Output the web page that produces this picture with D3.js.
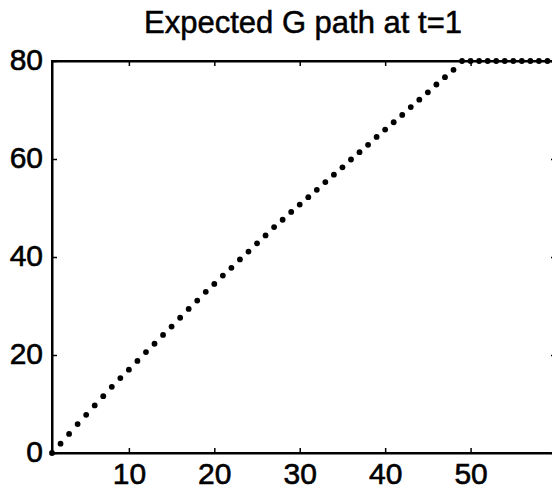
<!DOCTYPE html>
<html><head><meta charset="utf-8">
<script src="https://cdn.jsdelivr.net/npm/d3@7"></script>
<style>body{margin:0;background:#fff;}svg{display:block;font-family:"Liberation Sans",Arial,sans-serif;}</style>
</head><body>
<script>
const title = "Expected G path at t=1";
const xValues = d3.range(1, 61);
const gValues = [0,1.9,3.9,5.9,7.8,9.7,11.6,13.5,
 15.3,17.0,18.8,20.6,22.3,24.1,25.8,27.6,29.4,31.1,32.9,
 34.5,36.2,37.8,39.5,41.1,42.8,44.4,46.1,
 47.6,49.2,50.7,52.2,53.7,55.3,56.8,58.3,59.9,61.4,62.9,64.5,66.0,67.5,69.0,70.6,72.1,73.6,75.2,76.7,78.2,
 80,80,80,80,80,80,80,80,80,80,80,80];
const xTicks = [10,20,30,40,50];
const yTicks = [0,20,40,60,80];

const W = 552, H = 492;
const svg = d3.select("body").append("svg").attr("width", W).attr("height", H);
const x = d3.scaleLinear().domain([1, 60]).range([52, 556]);
const y = d3.scaleLinear().domain([0, 80]).range([453, 61]);

// box
svg.append("rect").attr("x", x(1)).attr("y", y(80)).attr("width", x(60)-x(1)).attr("height", y(0)-y(80))
  .attr("fill", "none").attr("stroke", "#000").attr("stroke-width", 2);

const gx = svg.append("g").attr("transform", `translate(0,${y(0)})`)
  .call(d3.axisBottom(x).tickValues(xTicks).tickSizeInner(-5).tickSizeOuter(0).tickPadding(10));
const gt = svg.append("g").attr("transform", `translate(0,${y(80)})`)
  .call(d3.axisTop(x).tickValues(xTicks).tickSizeInner(-5).tickSizeOuter(0).tickFormat(""));
const gy = svg.append("g").attr("transform", `translate(${x(1)},0)`)
  .call(d3.axisLeft(y).tickValues(yTicks).tickSizeInner(-5).tickSizeOuter(0).tickPadding(9));
const gr = svg.append("g").attr("transform", `translate(${x(60)},0)`)
  .call(d3.axisRight(y).tickValues(yTicks).tickSizeInner(-5).tickSizeOuter(0).tickFormat(""));

[gx, gt, gy, gr].forEach(g => {
  g.select(".domain").attr("stroke", "#000").attr("stroke-width", 2);
  g.selectAll(".tick line").attr("stroke", "#000").attr("stroke-width", 1.5);
  g.selectAll("text").attr("fill", "#000").attr("stroke", "#000").attr("stroke-width", 0.6)
    .style("font-size", "30px").style("font-family", '"Liberation Sans",Arial,sans-serif');
});
gy.selectAll("text").attr("dy", "0.28em");
gx.selectAll("text").attr("dy", "0.71em");

svg.append("g").selectAll("circle").data(xValues).join("circle")
  .attr("cx", (d) => x(d)).attr("cy", (d, i) => y(gValues[i])).attr("r", 2.9).attr("fill", "#000");

svg.append("text").attr("x", (x(1) + x(60)) / 2 - 1).attr("y", 33).attr("text-anchor", "middle")
  .style("font-size", "31px").attr("fill", "#000").attr("stroke", "#000").attr("stroke-width", 0.5).text(title);
</script>
</body></html>
